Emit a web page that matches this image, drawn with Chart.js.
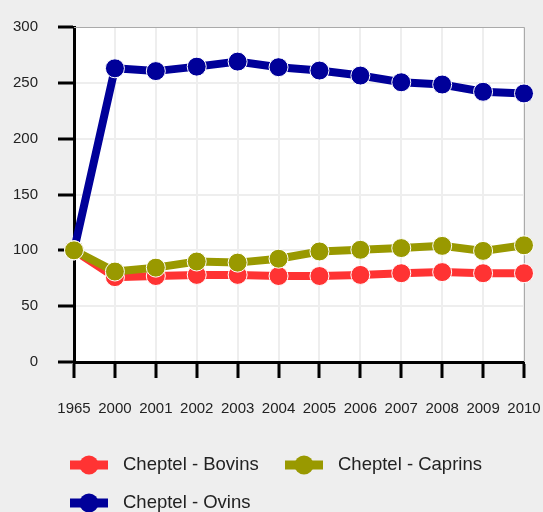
<!DOCTYPE html>
<html>
<head>
<meta charset="utf-8">
<script src="https://cdn.jsdelivr.net/npm/chart.js@4/dist/chart.umd.min.js"></script>
<style>
  html, body { margin: 0; padding: 0; background: #eeeeee; }
  #wrap { width: 543px; height: 512px; }
</style>
</head>
<body>
<div id="wrap"><canvas id="chart"></canvas></div>
<script>
var years = ["1965", "2000", "2001", "2002", "2003", "2004", "2005", "2006", "2007", "2008", "2009", "2010"];
var bovins = [100, 76, 77, 78, 78, 77, 77, 78, 79.5, 80.5, 79.5, 79.5];
var caprins = [100, 81, 84.5, 90, 89, 92.5, 99, 100.5, 102, 104, 99.5, 104.5];
var ovins = [100, 263, 260.5, 264.5, 269, 264, 261, 256.5, 250.5, 248.5, 242, 240.5];
var seriesNames = ["Cheptel - Bovins", "Cheptel - Caprins", "Cheptel - Ovins"];
var seriesColors = ["#ff3333", "#999900", "#000099"];

function makeSet(i, values, order) {
	return {
		label: seriesNames[i],
		data: values,
		borderColor: seriesColors[i],
		backgroundColor: seriesColors[i],
		pointBackgroundColor: seriesColors[i],
		pointBorderColor: "#ffffff",
		pointBorderWidth: 1,
		pointRadius: 9.5,
		borderWidth: 8,
		tension: 0,
		fill: false,
		order: order
	};
}

// white plot background + thin grey frame on top/right
var plotBox = {
	id: 'plotBox',
	beforeDraw: function(chart) {
		var a = chart.chartArea, ctx = chart.ctx;
		ctx.save();
		ctx.fillStyle = "#ffffff";
		ctx.fillRect(a.left, a.top, a.right - a.left, a.bottom - a.top);
		ctx.restore();
	},
	beforeDatasetsDraw: function(chart) {
		var a = chart.chartArea, ctx = chart.ctx;
		ctx.save();
		ctx.strokeStyle = "#aaaaaa";
		ctx.lineWidth = 1;
		ctx.beginPath();
		ctx.moveTo(a.left, a.top + 0.5);
		ctx.lineTo(a.right + 0.5, a.top + 0.5);
		ctx.lineTo(a.right + 0.5, a.bottom);
		ctx.stroke();
		ctx.restore();
	}
};

// legend with line + dot symbols
var lineLegend = {
	id: 'lineLegend',
	afterDraw: function(chart) {
		var ctx = chart.ctx;
		var spots = [[70, 465], [285, 465], [70, 503]];
		ctx.save();
		for (var i = 0; i < seriesNames.length; i++) {
			var x = spots[i][0], y = spots[i][1];
			ctx.fillStyle = seriesColors[i];
			ctx.fillRect(x, y - 4.5, 38, 9);
			ctx.beginPath();
			ctx.arc(x + 19, y, 9.5, 0, Math.PI * 2);
			ctx.fill();
			ctx.fillStyle = "#222222";
			ctx.font = "18.5px 'Liberation Sans', Arial, sans-serif";
			ctx.textBaseline = "middle";
			ctx.textAlign = "left";
			ctx.fillText(seriesNames[i], x + 53, y);
		}
		ctx.restore();
	}
};

var config = {
	type: 'line',
	data: {
		labels: years,
		datasets: [
			makeSet(0, bovins, 1),
			makeSet(1, caprins, 0),
			makeSet(2, ovins, 2)
		]
	},
	options: {
		responsive: true,
		maintainAspectRatio: false,
		animation: false,
		layout: { padding: { top: 27, right: 19, left: 0, bottom: 0 } },
		plugins: {
			legend: { display: false },
			tooltip: { enabled: false }
		},
		scales: {
			x: {
				offset: false,
				grid: { color: "#eeeeee", lineWidth: 2, tickColor: "#000000", tickLength: 16, tickWidth: 3 },
				border: { color: "#000000", width: 3 },
				ticks: {
					color: "#222222",
					font: { family: "'Liberation Sans', Arial, sans-serif", size: 15 },
					padding: 22,
					maxRotation: 0,
					autoSkip: false
				},
				afterFit: function(s) { s.height = 150; s.paddingLeft = 0; s.paddingRight = 0; }
			},
			y: {
				min: 0,
				max: 300,
				grid: { color: "#eeeeee", lineWidth: 2, tickColor: "#000000", tickLength: 16, tickWidth: 3 },
				border: { color: "#000000", width: 3 },
				ticks: {
					stepSize: 50,
					color: "#222222",
					font: { family: "'Liberation Sans', Arial, sans-serif", size: 15 },
					padding: 20
				},
				afterFit: function(s) { s.width = 74; s.paddingTop = 0; s.paddingBottom = 0; }
			}
		}
	},
	plugins: [plotBox, lineLegend]
};

window.onload = function() {
	window.myLine = new Chart(document.getElementById("chart"), config);
};
</script>
</body>
</html>
